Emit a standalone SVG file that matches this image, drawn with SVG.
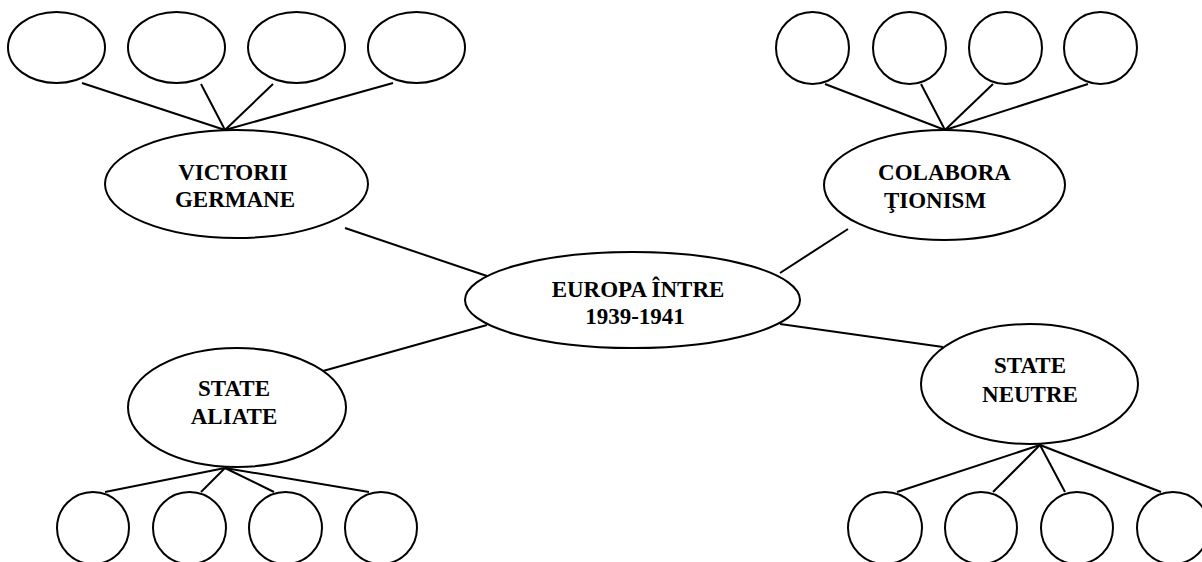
<svg xmlns="http://www.w3.org/2000/svg" width="1202" height="562" viewBox="0 0 1202 562">
<style>
.n{fill:#fff;stroke:#000;stroke-width:2}
.c line{stroke:#000;stroke-width:2}
text{font-family:"Liberation Serif","Times New Roman",serif;font-weight:bold;font-size:23px;text-anchor:middle;fill:#000}
</style>
<rect width="1202" height="562" fill="#fff"/>
<g class="c" id="connectors">
<line x1="82" y1="83" x2="225" y2="130"/>
<line x1="201" y1="84" x2="225" y2="130"/>
<line x1="273" y1="84" x2="225" y2="130"/>
<line x1="393" y1="83" x2="225" y2="130"/>
<line x1="825" y1="84" x2="945" y2="130"/>
<line x1="921" y1="84" x2="945" y2="130"/>
<line x1="993" y1="84" x2="945" y2="130"/>
<line x1="1088" y1="84" x2="945" y2="130"/>
<line x1="105" y1="492" x2="225" y2="468"/>
<line x1="201" y1="492" x2="225" y2="468"/>
<line x1="274" y1="492" x2="225" y2="468"/>
<line x1="369" y1="492" x2="225" y2="468"/>
<line x1="897" y1="492" x2="1040" y2="445"/>
<line x1="993" y1="492" x2="1040" y2="445"/>
<line x1="1065" y1="492" x2="1040" y2="445"/>
<line x1="1161" y1="492" x2="1040" y2="445"/>
<line x1="345" y1="228" x2="487" y2="276"/>
<line x1="487" y1="325" x2="323" y2="371"/>
<line x1="780" y1="273" x2="848" y2="229"/>
<line x1="780" y1="324" x2="943" y2="347"/>
</g>
<g id="tl1"><ellipse class="n" cx="56.5" cy="47.5" rx="48.5" ry="35.5"/></g>
<g id="tl2"><ellipse class="n" cx="176.5" cy="47.5" rx="48.5" ry="35.5"/></g>
<g id="tl3"><ellipse class="n" cx="296.5" cy="47.5" rx="48.5" ry="35.5"/></g>
<g id="tl4"><ellipse class="n" cx="416.5" cy="47.5" rx="48.5" ry="35.5"/></g>
<g id="tr1"><ellipse class="n" cx="812.5" cy="48" rx="36.5" ry="36"/></g>
<g id="tr2"><ellipse class="n" cx="909.5" cy="48" rx="36.5" ry="36"/></g>
<g id="tr3"><ellipse class="n" cx="1005.5" cy="48" rx="36.5" ry="36"/></g>
<g id="tr4"><ellipse class="n" cx="1100.5" cy="48" rx="36.5" ry="36"/></g>
<g id="bl1"><ellipse class="n" cx="93" cy="528" rx="36" ry="36"/></g>
<g id="bl2"><ellipse class="n" cx="189.5" cy="528" rx="36.5" ry="36"/></g>
<g id="bl3"><ellipse class="n" cx="285.5" cy="528" rx="36.5" ry="36"/></g>
<g id="bl4"><ellipse class="n" cx="381" cy="528" rx="36" ry="36"/></g>
<g id="br1"><ellipse class="n" cx="885" cy="528" rx="37" ry="36"/></g>
<g id="br2"><ellipse class="n" cx="981" cy="528" rx="36" ry="36"/></g>
<g id="br3"><ellipse class="n" cx="1077" cy="528" rx="36" ry="36"/></g>
<g id="br4"><ellipse class="n" cx="1173" cy="528" rx="36" ry="36"/></g>
<g id="victorii"><ellipse class="n" cx="236.5" cy="184" rx="131.5" ry="54"/>
<text x="233" y="180">VICTORII</text><text x="235" y="207">GERMANE</text></g>
<g id="colaborationism"><ellipse class="n" cx="944.5" cy="185" rx="120.5" ry="55"/>
<text x="944.5" y="180">COLABORA</text><text x="935" y="208">ŢIONISM</text></g>
<g id="europa"><ellipse class="n" cx="632.5" cy="300" rx="167.5" ry="48"/>
<text x="638" y="297">EUROPA ÎNTRE</text><text x="635" y="324">1939-1941</text></g>
<g id="aliate"><ellipse class="n" cx="237" cy="407.5" rx="109" ry="59.5"/>
<text x="234" y="396">STATE</text><text x="234" y="424">ALIATE</text></g>
<g id="neutre"><ellipse class="n" cx="1029.5" cy="384" rx="108.5" ry="60"/>
<text x="1030" y="373">STATE</text><text x="1030" y="402">NEUTRE</text></g>
</svg>
